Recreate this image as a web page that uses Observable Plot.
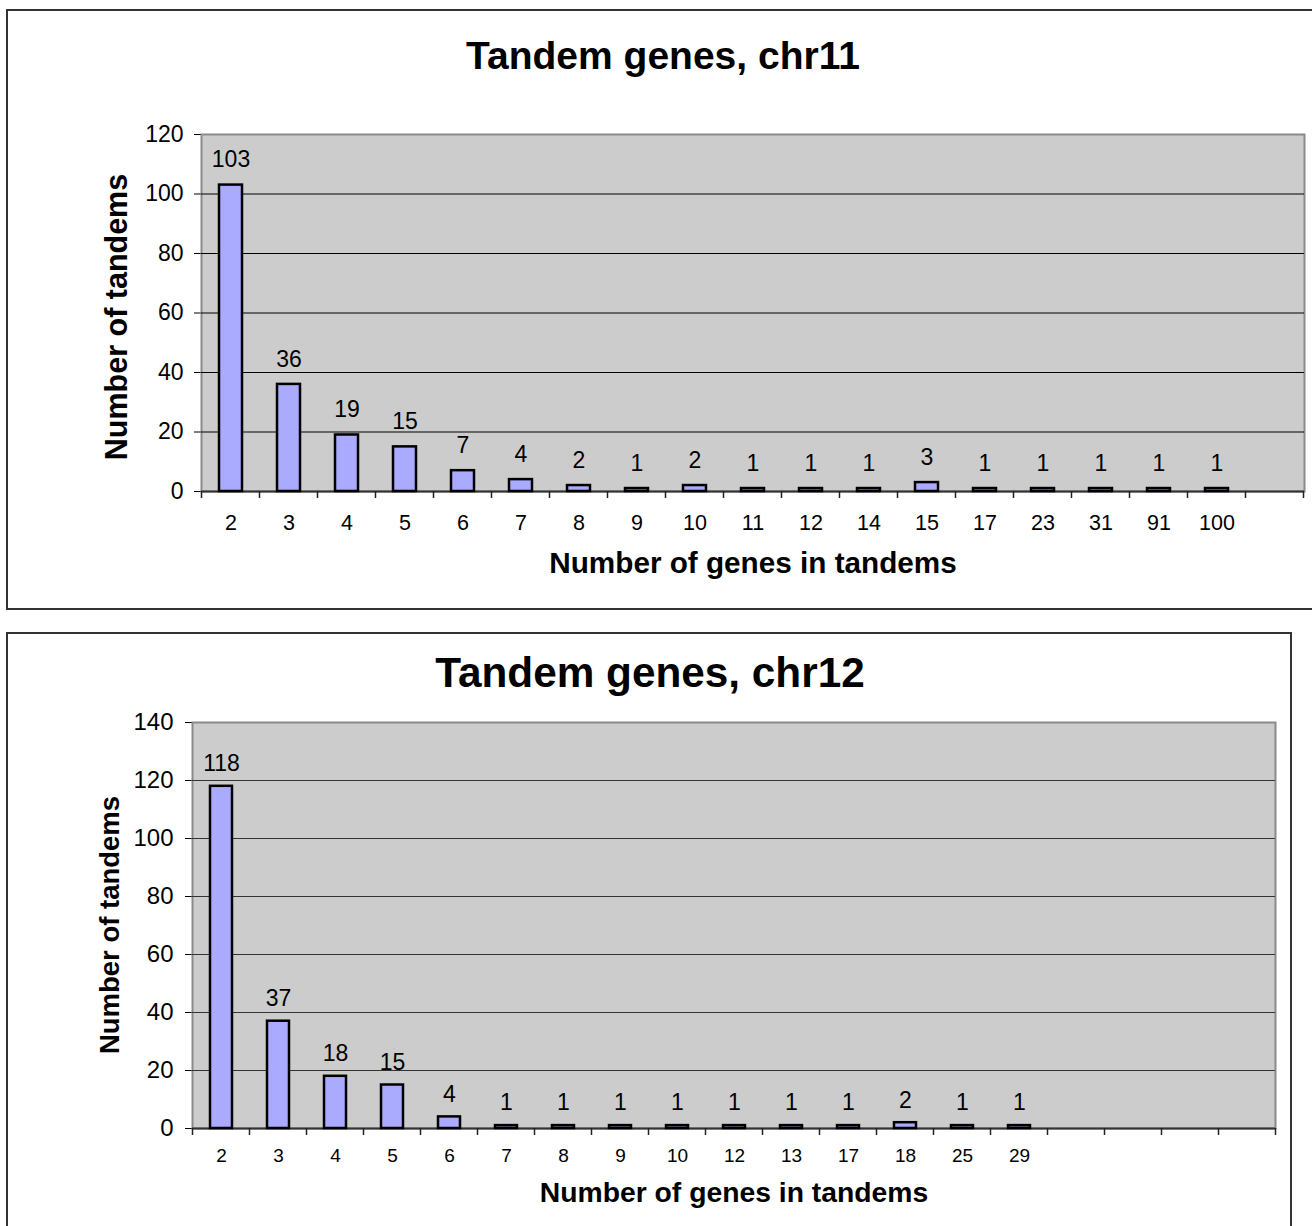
<!DOCTYPE html>
<html><head><meta charset="utf-8">
<script src="https://cdn.jsdelivr.net/npm/d3@7"></script>
<script src="https://cdn.jsdelivr.net/npm/@observablehq/plot@0.6"></script>
<style>
html,body{margin:0;padding:0;background:#fff;overflow:hidden;width:1312px;height:1226px;}
body{position:relative;font-family:"Liberation Sans",Arial,Helvetica,sans-serif;}
.box{position:absolute;border:2px solid #333;box-sizing:border-box;}
.t{position:absolute;white-space:nowrap;font-weight:bold;line-height:1;transform:translate(-50%,-50%);color:#000;}
.yt{transform:translate(-50%,-50%) rotate(-90deg);}
.chart{position:absolute;left:0;}
</style></head><body>
<script>
// ---- Data: chr11 ----
const chr11Title = "Tandem genes, chr11";
const chr11Genes = ["2","3","4","5","6","7","8","9","10","11","12","14","15","17","23","31","91","100"];
const chr11Counts = [103,36,19,15,7,4,2,1,2,1,1,1,3,1,1,1,1,1];
const chr11EmptySlots = 1;
const chr11YTicks = [0,20,40,60,80,100,120];

// ---- Data: chr12 ----
const chr12Title = "Tandem genes, chr12";
const chr12Genes = ["2","3","4","5","6","7","8","9","10","12","13","17","18","25","29"];
const chr12Counts = [118,37,18,15,4,1,1,1,1,1,1,1,2,1,1];
const chr12EmptySlots = 4;
const chr12YTicks = [0,20,40,60,80,100,120,140];

const xTitle = "Number of genes in tandems";
const yTitle = "Number of tandems";

function addDiv(cls, text, css) {
  const d = document.createElement("div");
  d.className = cls;
  d.textContent = text;
  Object.assign(d.style, css);
  document.body.appendChild(d);
  return d;
}

function makeChart(cfg) {
  const data = cfg.genes.map((g, i) => ({cat: g, v: cfg.counts[i]}));
  const blanks = d3.range(cfg.empty).map(i => " ".repeat(i + 1));
  const domain = [...cfg.genes, ...blanks];
  const yMax = cfg.yTicks[cfg.yTicks.length - 1];
  const plot = Plot.plot({
    width: 1312,
    height: cfg.height,
    marginLeft: cfg.ml, marginRight: cfg.mr, marginTop: cfg.mt, marginBottom: cfg.mb,
    style: {fontFamily: '"Liberation Sans", Arial, sans-serif', background: "transparent", color: "#000", overflow: "visible"},
    x: {domain, type: "band", paddingInner: cfg.pad, paddingOuter: cfg.pad / 2, align: 0.5,
        tickSize: 0, tickPadding: cfg.xPad, tickFormat: d => d.trim(), label: null},
    y: {domain: [0, yMax], ticks: cfg.yTicks, tickSize: 7, tickPadding: cfg.yPad, line: true, label: null},
    marks: [
      Plot.frame({fill: "#cccccc", stroke: "#8a8a8a", strokeWidth: 2}),
      Plot.ruleY(cfg.yTicks.filter(v => v > 0 && v < yMax), {stroke: cfg.grid, strokeWidth: 1.2}),
      Plot.ruleY([0], {stroke: "#333", strokeWidth: 2}),
      Plot.barY(data, {x: "cat", y: "v", fill: "#aaaaff", stroke: "#000", strokeWidth: 2.5}),
      Plot.text(data, {x: "cat", y: "v", text: d => String(d.v), dy: cfg.labelDy, fontSize: cfg.labelSize, lineAnchor: "middle", fill: "#000"})
    ]
  });
  const svg = d3.select(plot);
  svg.selectAll('g[aria-label^="x-axis"] text').style("font-size", cfg.xFont + "px");
  svg.selectAll('g[aria-label^="y-axis"] text').style("font-size", cfg.yFont + "px");
  // category-boundary tick marks below the baseline
  const xs = plot.scale("x");
  const y0 = plot.scale("y").apply(0);
  const gap = (xs.step - xs.bandwidth) / 2;
  const bounds = xs.domain.map(c => xs.apply(c) - gap);
  bounds.push(xs.apply(xs.domain[xs.domain.length - 1]) + xs.bandwidth + gap);
  const g = svg.append("g").attr("stroke", "#222").attr("stroke-width", 1.5);
  bounds.forEach(bx => g.append("line").attr("x1", bx).attr("x2", bx).attr("y1", y0).attr("y2", y0 + 7));
  plot.classList.add("chart");
  plot.style.top = cfg.top + "px";
  plot.style.position = "absolute";
  plot.style.left = "0px";
  document.body.appendChild(plot);
}

// frames
addDiv("box", "", {left: "6px", top: "9px", width: "1330px", height: "601px"});
addDiv("box", "", {left: "6px", top: "632px", width: "1286px", height: "640px"});

makeChart({genes: chr11Genes, counts: chr11Counts, empty: chr11EmptySlots, yTicks: chr11YTicks,
  top: 0, height: 620, ml: 201, mr: 8, mt: 134, mb: 129, pad: 0.61,
  xPad: 23, yPad: 11, xFont: 21.5, yFont: 23, labelSize: 23, labelDy: -25, grid: "#000"});
makeChart({genes: chr12Genes, counts: chr12Counts, empty: chr12EmptySlots, yTicks: chr12YTicks,
  top: 620, height: 606, ml: 192, mr: 37, mt: 102, mb: 98, pad: 0.62,
  xPad: 20, yPad: 12, xFont: 19, yFont: 24, labelSize: 23, labelDy: -22.5, grid: "#333"});

// titles
addDiv("t", chr11Title, {left: "663px", top: "55px", fontSize: "39px"});
addDiv("t", xTitle, {left: "753px", top: "563px", fontSize: "29.7px"});
addDiv("t yt", yTitle, {left: "116px", top: "317px", fontSize: "30.5px"});
addDiv("t", chr12Title, {left: "650px", top: "673px", fontSize: "42.3px"});
addDiv("t", xTitle, {left: "734px", top: "1192px", fontSize: "28.3px"});
addDiv("t yt", yTitle, {left: "110px", top: "925px", fontSize: "27.5px"});
</script>
</body></html>
